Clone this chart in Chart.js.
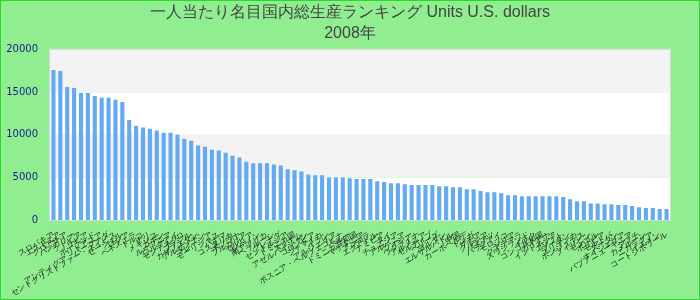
<!DOCTYPE html>
<html>
<head>
<meta charset="utf-8">
<script src="https://cdn.jsdelivr.net/npm/chart.js@4/dist/chart.umd.min.js"></script>
<style>
  html, body { margin: 0; padding: 0; background: #90ee90; }
  #wrap { width: 700px; height: 300px; position: relative; }
</style>
</head>
<body>
<div id="wrap"><canvas id="c" width="700" height="300"></canvas></div>
<script>
const titleLines = ["一人当たり名目国内総生産ランキング Units U.S. dollars", "2008年"];

const categories = [
  "スロバキア","エストニア","クロアチア","ハンガリー","ラトビア","リビア","ポーランド","リトアニア",
  "アンティグア・バーブーダ","セントクリストファー・ネイビス","セーシェル","ロシア","ベネズエラ","トルコ",
  "チリ","メキシコ","ガボン","ルーマニア","ウルグアイ","モンテネグロ","ブラジル","カザフスタン",
  "アルゼンチン","マレーシア","モーリシャス","パナマ","コスタリカ","ボツワナ","ブルガリア","セルビア",
  "レバノン","南アフリカ","ベラルーシ","グレナダ","セントルシア","ドミニカ国","スリナム","アゼルバイジャン",
  "コロンビア","ジャマイカ","イラン","アルジェリア","ボスニア・ヘルツェゴビナ","ペルー","ドミニカ共和国",
  "マケドニア","アンゴラ","エクアドル","ナミビア","タイ","チュニジア","アルバニア","フィジー","ウクライナ",
  "アルメニア","モルディブ","ベリーズ","ヨルダン","エルサルバドル","中国","カーボベルデ","トンガ","サモア",
  "グルジア","バヌアツ","パラグアイ","モロッコ","シリア","グアテマラ","スワジランド","イラク","コンゴ共和国",
  "ガイアナ","インドネシア","エジプト","ブータン","スリランカ","ホンジュラス","フィリピン","モンゴル",
  "ボリビア","モルドバ","スーダン","ナイジェリア","パプアニューギニア","ジブチ","カメルーン","ニカラグア",
  "イエメン","コートジボワール"
];

const values = [
  17600,17500,15600,15500,14900,14900,14550,14350,14350,14100,13850,11750,11050,10850,
  10700,10500,10250,10250,10000,9550,9300,8750,8600,8250,8150,7900,7550,7350,6850,6650,
  6650,6650,6500,6400,5950,5850,5700,5350,5250,5250,5000,5000,5000,4900,4800,
  4800,4800,4550,4450,4300,4300,4200,4100,4100,4100,4100,3950,3950,3850,3850,3600,3600,3400,
  3250,3250,3150,2900,2900,2800,2800,2800,2800,2800,2800,2700,2450,2200,2200,1950,1950,
  1850,1850,1750,1750,1650,1500,1400,1400,1300,1300
];

const yTicks = [0, 5000, 10000, 15000, 20000];

const bgPlugin = {
  id: 'bg',
  beforeDraw(chart) {
    const ctx = chart.ctx;
    ctx.save();
    ctx.fillStyle = '#90ee90';
    ctx.fillRect(0, 0, chart.width, chart.height);
    const x = chart.scales.x;
    const y = chart.scales.y;
    const n = categories.length;
    const p0 = x.getPixelForValue(0), p1 = x.getPixelForValue(n - 1);
    const half = (p1 - p0) / (n - 1) / 2;
    const L = Math.round(p0 - half), R = Math.round(p1 + half);
    const T = y.getPixelForValue(yTicks[yTicks.length - 1]), B = y.getPixelForValue(0);
    for (let i = 0; i < yTicks.length - 1; i++) {
      const top = y.getPixelForValue(yTicks[i + 1]);
      const bot = y.getPixelForValue(yTicks[i]);
      ctx.fillStyle = (i % 2 === 0) ? '#ffffff' : '#f3f3f3';
      ctx.fillRect(L, top, R - L, bot - top);
    }
    ctx.strokeStyle = '#d9d9d9';
    ctx.lineWidth = 1;
    ctx.strokeRect(L - 0.5, T - 0.5, R - L + 1, B - T + 1);
    ctx.restore();
  },
  afterDraw(chart) {
    const ctx = chart.ctx;
    ctx.save();
    ctx.strokeStyle = '#22dd22';
    ctx.lineWidth = 1;
    ctx.strokeRect(0.5, 0.5, chart.width - 1, chart.height - 1);
    ctx.restore();
  }
};

new Chart(document.getElementById('c'), {
  type: 'bar',
  data: {
    labels: categories,
    datasets: [{
      data: values,
      backgroundColor: '#64aaf2',
      borderWidth: 0,
      barPercentage: 0.6,
      categoryPercentage: 1.0
    }]
  },
  options: {
    responsive: false,
    animation: false,
    devicePixelRatio: 1,
    layout: { padding: 0 },
    plugins: {
      legend: { display: false },
      tooltip: { enabled: false },
      title: {
        display: true,
        text: titleLines,
        color: '#444444',
        font: { family: 'Liberation Sans, Arial, sans-serif', size: 16, weight: 'normal', lineHeight: 1.3 },
        padding: { top: 2, bottom: 6 }
      }
    },
    scales: {
      x: {
        grid: { display: false },
        border: { display: false },
        ticks: {
          autoSkip: false,
          minRotation: 30,
          maxRotation: 30,
          color: '#222222',
          padding: 2,
          font: { family: 'DejaVu Sans, sans-serif', size: 8 }
        },
        afterFit(scale) { scale.height = 80; }
      },
      y: {
        min: 0,
        max: 20000,
        grid: { display: false },
        border: { display: false },
        ticks: {
          stepSize: 5000,
          color: '#1a1a8c',
          padding: 4,
          font: { family: 'DejaVu Sans, sans-serif', size: 10 },
          callback: (v) => String(v)
        },
        afterFit(scale) { scale.width = 50; }
      },
      yRight: {
        position: 'right',
        display: true,
        min: 0,
        max: 20000,
        grid: { display: false },
        border: { display: false },
        ticks: { display: true, color: 'rgba(0,0,0,0)', callback: () => '' },
        afterFit(scale) { scale.width = 30; }
      }
    }
  },
  plugins: [bgPlugin]
});
</script>
</body>
</html>
